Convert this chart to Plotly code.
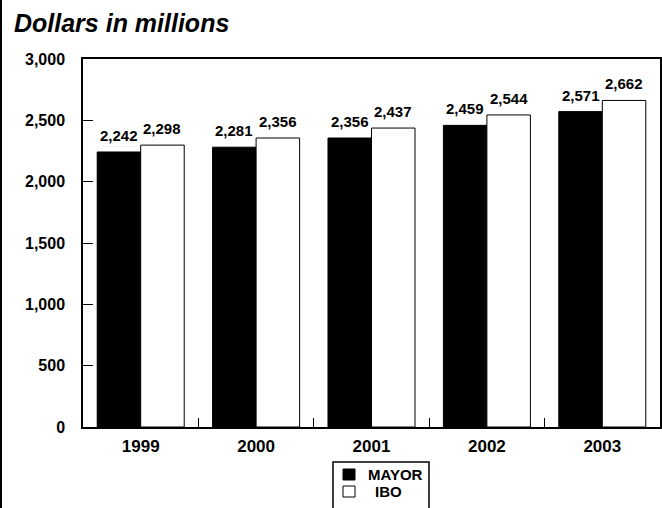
import plotly.graph_objects as go

# Annual totals, dollars in millions
years = ["1999", "2000", "2001", "2002", "2003"]
mayor = [2242, 2281, 2356, 2459, 2571]
ibo = [2298, 2356, 2437, 2544, 2662]
y_ticks = [0, 500, 1000, 1500, 2000, 2500, 3000]
series_names = ["MAYOR", "IBO"]
series_fills = ["black", "white"]

W, H = 662, 508
L, R, T, B = 83, 2, 59, 81
PW, PH = W - L - R, H - T - B

def px_x(px):
    return (px - L) / PW

def px_y(py):
    return (H - B - py) / PH

FONT = "Liberation Sans, Arial, sans-serif"
BARGAP = 0.246
half = (1 - BARGAP) / 4  # centre offset of each bar within its group

fig = go.Figure()
for name, vals, fill in zip(series_names, (mayor, ibo), series_fills):
    fig.add_trace(go.Bar(
        x=years, y=vals, name=name, showlegend=False,
        marker=dict(color=fill, line=dict(color="black", width=1)),
    ))

annotations = []
for i, (m, b) in enumerate(zip(mayor, ibo)):
    for off, v in ((-half, m), (half, b)):
        annotations.append(dict(
            x=i + off, y=v, xref="x", yref="y",
            text=f"{v:,}", showarrow=False,
            yanchor="bottom", yshift=6,
            font=dict(family=FONT, size=15, color="black", weight="bold"),
        ))

annotations.append(dict(
    x=px_x(12), y=px_y(23), xref="paper", yref="paper",
    text="Dollars in millions", showarrow=False,
    xanchor="left", yanchor="middle",
    font=dict(family=FONT, size=25, color="black", weight="bold", style="italic"),
))

shapes = [
    # outer left rule
    dict(type="line", xref="paper", yref="paper",
         x0=px_x(1), x1=px_x(1), y0=px_y(-2), y1=px_y(H + 2),
         line=dict(color="black", width=2)),
    # legend frame
    dict(type="rect", xref="paper", yref="paper",
         x0=px_x(333), x1=px_x(429), y0=px_y(462), y1=px_y(H + 10),
         line=dict(color="black", width=1.5), fillcolor="rgba(0,0,0,0)"),
]

# legend key: swatch + label per series
legend_rows = [(474.5, 366), (491.5, 373)]
for (cy, tx), name, fill in zip(legend_rows, series_names, series_fills):
    shapes.append(dict(
        type="rect", xref="paper", yref="paper",
        x0=px_x(343), x1=px_x(355), y0=px_y(cy + 5.5), y1=px_y(cy - 5.5),
        line=dict(color="black", width=1), fillcolor=fill,
    ))
    annotations.append(dict(
        x=px_x(tx), y=px_y(cy), xref="paper", yref="paper",
        text=name, showarrow=False, xanchor="left", yanchor="middle",
        font=dict(family=FONT, size=15, color="black", weight="bold"),
    ))

fig.update_layout(
    width=W, height=H,
    margin=dict(l=L, r=R, t=T, b=B, pad=0, autoexpand=False),
    paper_bgcolor="white", plot_bgcolor="white",
    barmode="group", bargap=BARGAP, bargroupgap=0,
    font=dict(family=FONT, color="black"),
    showlegend=False,
    annotations=annotations,
    shapes=shapes,
)

fig.update_xaxes(
    type="category", automargin=False,
    showline=True, mirror=True, linecolor="black", linewidth=1.5,
    ticks="inside", tickson="boundaries", ticklen=9, tickcolor="black", tickwidth=1,
    tickfont=dict(family=FONT, size=17, color="black", weight="bold"),
    ticklabelstandoff=3,
    showgrid=False, zeroline=False,
)
fig.update_yaxes(
    range=[0, 3000], tickvals=y_ticks, tickformat=",", automargin=False,
    showline=True, mirror=True, linecolor="black", linewidth=1.5,
    ticks="inside", ticklen=10, tickcolor="black", tickwidth=1,
    tickfont=dict(family=FONT, size=16, color="black", weight="bold"),
    ticklabelstandoff=13,
    showgrid=False, zeroline=False,
)

fig.write_html("out.html")
